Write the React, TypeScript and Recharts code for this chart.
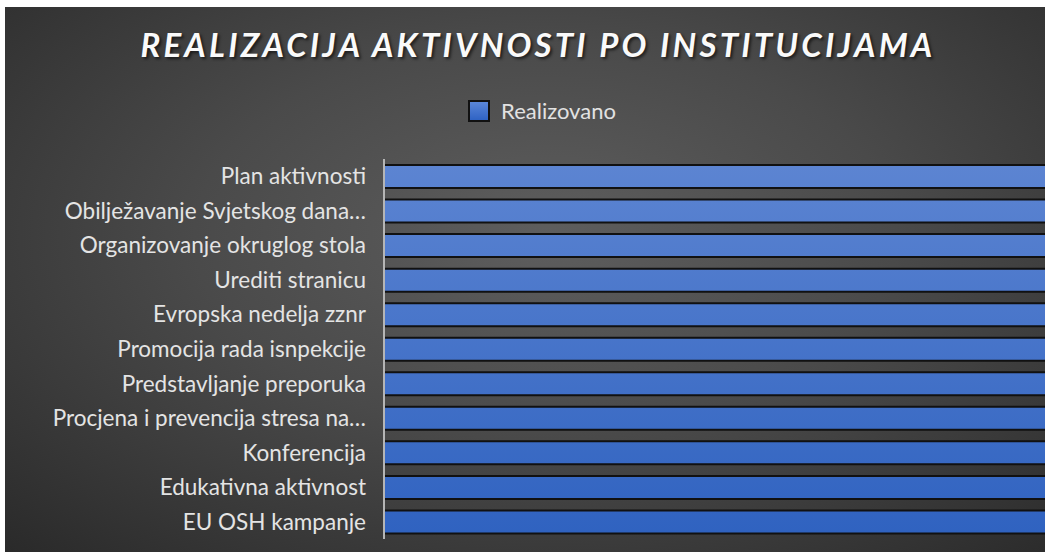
import React from "react";
import {
  BarChart,
  Bar,
  XAxis,
  YAxis,
  Legend,
} from "recharts";

const activities = [
  "Plan aktivnosti",
  "Obilježavanje Svjetskog dana…",
  "Organizovanje okruglog stola",
  "Urediti stranicu",
  "Evropska nedelja zznr",
  "Promocija rada isnpekcije",
  "Predstavljanje preporuka",
  "Procjena i prevencija stresa na…",
  "Konferencija",
  "Edukativna aktivnost",
  "EU OSH kampanje",
];

const realizovano = [1, 1, 1, 1, 1, 1, 1, 1, 1, 1, 1];

const data = activities.map((name, i) => ({ name, Realizovano: realizovano[i] }));

const FONT = "Lato, 'Open Sans', sans-serif";

function LegendBox() {
  return (
    <div
      style={{
        display: "flex",
        justifyContent: "center",
        alignItems: "center",
        fontFamily: FONT,
        fontSize: 22,
        color: "#e2e2e2",
        paddingLeft: 34,
      }}
    >
      <span
        style={{
          width: 18,
          height: 18,
          background: "linear-gradient(#5a86d8, #2f63c4)",
          border: "2px solid #111",
          marginRight: 11,
        }}
      />
      Realizovano
    </div>
  );
}

export default function App() {
  return (
    <div style={{ position: "absolute", left: 0, top: 0, width: 1045, height: 552, background: "#fff" }}>
      <div
        style={{
          position: "absolute",
          left: 5,
          top: 7,
          width: 1040,
          height: 545,
          overflow: "hidden",
          background:
            "radial-gradient(ellipse 75% 80% at 52% 42%, #5e5e5e 0%, #4a4a4a 45%, #2a2a2a 100%)",
        }}
      >
        <div
          style={{
            position: "absolute",
            left: 13,
            width: 1040,
            top: 17,
            textAlign: "center",
            fontFamily: FONT,
            fontWeight: 700,
            fontStyle: "italic",
            fontSize: 33,
            letterSpacing: 3.2,
            color: "#fafafa",
            textShadow: "2px 2px 3px rgba(0,0,0,0.6)",
          }}
        >
          REALIZACIJA AKTIVNOSTI PO INSTITUCIJAMA
        </div>
        <BarChart
          width={1048}
          height={545}
          data={data}
          layout="vertical"
          margin={{ top: 125, right: 0, bottom: 13, left: 0 }}
          barSize={23}
        >
          <defs>
            <linearGradient id="barFill" x1="0" y1="150" x2="0" y2="532" gradientUnits="userSpaceOnUse">
              <stop offset="0%" stopColor="#5d85d2" />
              <stop offset="100%" stopColor="#2f62c0" />
            </linearGradient>
          </defs>
          <XAxis type="number" domain={[0, 1]} hide />
          <YAxis
            dataKey="name"
            type="category"
            width={379}
            tickLine={false}
            tickMargin={12}
            axisLine={{ stroke: "#b5b5b5", strokeWidth: 2 }}
            tick={{ fill: "#e4e4e4", fontSize: 22.5, fontFamily: FONT }}
            interval={0}
          />
          <Legend
            verticalAlign="top"
            content={<LegendBox />}
            wrapperStyle={{ top: 90, left: 0, width: 1040 }}
          />
          <Bar
            dataKey="Realizovano"
            fill="url(#barFill)"
            stroke="#111"
            strokeWidth={2}
            isAnimationActive={false}
          />
        </BarChart>
      </div>
    </div>
  );
}
